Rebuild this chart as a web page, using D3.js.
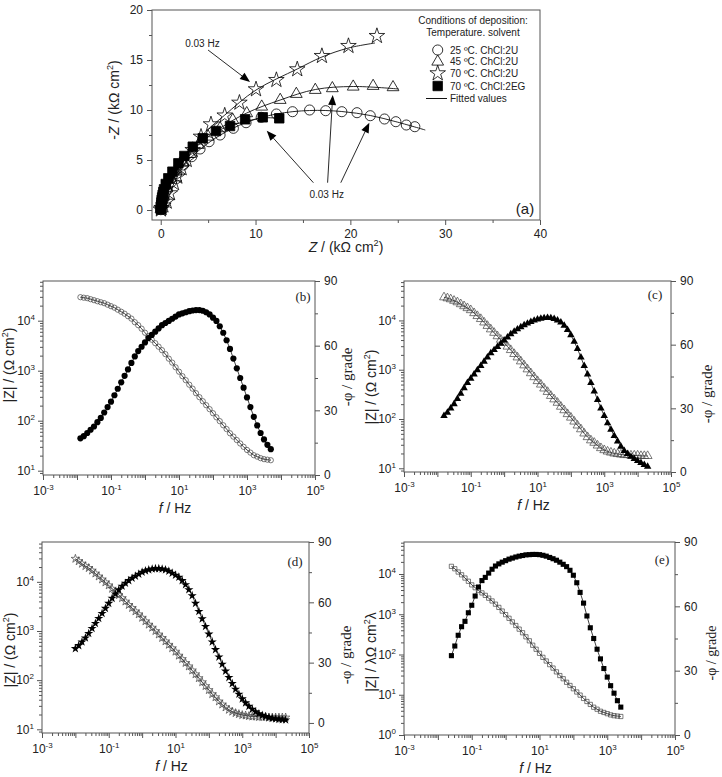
<!DOCTYPE html>
<html>
<head>
<meta charset="utf-8">
<script src="https://cdn.jsdelivr.net/npm/d3@7"></script>
<style>
  body { margin: 0; background: #fff; }
  svg { display: block; }
</style>
</head>
<body>
<svg id="chart" width="722" height="777"></svg>
<script>
// -------------------------------------------------------------------------
// Data

// Nyquist plot (a): [Z', -Z''] in kOhm cm2
const nyq25 = [[0.01,0.03],[0.02,0.1],[0.05,0.25],[0.1,0.5],[0.2,0.85],[0.35,1.17],[0.7,2.0],[1.16,2.83],[1.69,3.67],[2.39,4.5],[3.27,5.33],[4.15,6.1],[5.1,6.83],[6.26,7.5],[7.66,8.17],[9.0,8.73],[10.6,9.27],[12.2,9.6],[13.9,9.83],[15.7,10.0],[17.4,9.93],[19.1,9.83],[20.7,9.73],[22.1,9.43],[23.6,9.1],[24.8,8.83],[25.9,8.5],[26.8,8.33]];
const nyq45 = [[0.02,0.1],[0.1,0.6],[0.28,1.33],[0.63,2.17],[1.09,3.0],[1.61,3.83],[2.32,4.73],[3.09,5.6],[3.97,6.5],[5.0,7.33],[6.26,8.17],[7.6,9.0],[9.07,9.67],[10.65,10.33],[12.6,11.0],[14.3,11.6],[16.3,12.0],[18.1,12.17],[20.3,12.33],[22.4,12.4],[24.5,12.27]];
const nyq70 = [[0.02,0.05],[0.1,0.2],[0.28,0.45],[0.63,0.83],[0.98,1.67],[1.4,2.67],[1.75,3.33],[2.2,4.17],[2.74,5.0],[3.37,6.0],[4.25,7.33],[5.3,8.57],[6.75,9.45],[8.3,10.73],[10.05,12.07],[12.2,13.0],[14.4,14.07],[17.0,15.4],[19.8,16.4],[22.8,17.4]];
const nyqEG = [[0.01,0.05],[0.02,0.17],[0.03,0.35],[0.05,0.5],[0.07,0.75],[0.1,1.0],[0.15,1.25],[0.2,1.5],[0.27,1.8],[0.35,2.07],[0.53,2.6],[0.8,3.17],[1.23,3.83],[1.86,4.67],[2.49,5.4],[3.38,6.33],[4.43,7.17],[5.83,7.9],[7.31,8.4],[8.9,9.07],[10.76,9.27],[12.5,9.17]];

// fitted curves of (a)
const fit25 = [[0,0],[0.35,1.2],[1.2,2.9],[2.4,4.5],[4.2,6.1],[6.3,7.5],[9.0,8.75],[12.2,9.6],[15.7,9.95],[19.1,9.85],[22.1,9.45],[24.8,8.83],[27.9,8.0]];
const fit45 = [[0,0],[0.3,1.35],[1.1,3.0],[2.3,4.75],[3.97,6.5],[6.26,8.17],[9.07,9.7],[12.6,11.0],[16.3,12.05],[20.3,12.35],[25.1,12.1]];
const fit70 = [[0,0],[0.63,0.85],[1.4,2.67],[2.74,5.0],[4.25,7.33],[6.7,9.45],[10.05,12.0],[14.4,14.1],[17.0,15.3],[19.8,16.2],[22.6,16.7]];
const fitEG = [[0,0],[0.05,0.5],[0.2,1.5],[0.53,2.6],[1.23,3.83],[2.49,5.4],[4.43,7.17],[7.31,8.4],[10.76,9.2],[12.5,9.17]];

const legendLabels = ['25 \u00baC. ChCl:2U', '45 \u00baC. ChCl:2U', '70 \u00baC. ChCl:2U', '70 \u00baC. ChCl:2EG', 'Fitted values'];

// frequencies of the Bode plots, Hz
const freq = [0.01,0.0126,0.0158,0.02,0.0251,0.0316,0.0398,0.0501,0.0631,0.0794,
  0.1,0.126,0.158,0.2,0.251,0.316,0.398,0.501,0.631,0.794,
  1,1.26,1.58,2,2.51,3.16,3.98,5.01,6.31,7.94,
  10,12.6,15.8,20,25.1,31.6,39.8,50.1,63.1,79.4,
  100,126,158,200,251,316,398,501,631,794,
  1000,1259,1585,1995,2512,3162,3981,5012,6310,7943,
  10000,12589,15849,19953,25119];

// (b) 25 C ChCl:2U, starts at freq[1]
const bMod = [29500,28800,28200,26900,25700,24500,23400,22400,20900,19500,
  18200,16600,15100,13800,12300,11000,9330,8130,6920,5750,
  4900,4170,3550,3020,2570,2140,1740,1450,1170,955,
  776,646,525,437,355,295,245,204,170,141,
  117,98,81,68,56,48,41,35,30,26,
  23,20.4,19.1,17.8,17,16.6,16.2];
const bPhase = [17,18,19.5,21,22.5,24.5,26.5,29,31.5,34,
  37,40,43,46,49,52,55,57.5,59.5,61.5,
  63.5,65,66.5,68,69.5,70.5,71.5,72.5,73.5,74.5,
  75,75.5,76,76.3,76.5,76.5,76.2,75.5,74.5,73,
  71.5,69,66,62.5,58.5,54,49.5,45,40.5,36,
  31.5,27,23,19.5,16.5,14,12];

// (c) 45 C ChCl:2U, starts at freq[2]
const cMod = [29500,28200,26900,25100,23400,21400,19500,17800,16200,14100,
  12300,10700,9120,7760,6610,5620,4790,4070,3550,2950,
  2510,2090,1780,1480,1230,1020,851,708,589,501,
  417,355,295,251,214,178,151,126,107,89,
  74,62,51,43,37,33,29,25.7,23.4,21.9,
  20.9,20,19.5,19.1,18.6,18.6,18.2,18.2,18.2,17.8,
  17.8,17.8];
const cPhase = [26.5,28,30,32,34.5,37,39.5,42,44,46,
  48,50,52,54,56,57.5,59,60.5,62,63.5,
  65,66.2,67.3,68.3,69.2,70,70.8,71.4,71.9,72.3,
  72.6,72.7,72.6,72.2,71.5,70.5,69,67,64.5,61.5,
  58,54,50,46,42,38,34,30,26.5,23,
  20,17,14.5,12,10,8.5,7.2,6.2,5.2,4.3,
  3.4,2.6];

// (d) 70 C ChCl:2U, starts at freq[0]
const dMod = [29500,26300,23400,20900,19100,17000,14800,12900,11200,9770,
  8510,7240,6310,5370,4680,3980,3390,2950,2510,2190,
  1860,1580,1350,1170,1000,851,724,617,525,447,
  380,316,269,224,191,158,132,110,91,76,
  63,52,45,37,32,28,25,22.9,21.4,20.4,
  19.5,19.1,18.6,18.2,18.2,17.8,17.8,17.8,17.4,17.4,
  17.4,17.4,17.4,17.4];
const dPhase = [37,38.5,40.3,42.3,44.5,47,49.5,52,54.5,57,
  59.5,62,64.2,66.2,68,69.5,70.8,72,73,74,
  75,75.7,76.2,76.6,76.8,76.8,76.6,76.2,75.5,74.5,
  73.5,72.5,70.8,68.8,66.3,63.3,59.5,55.5,51.8,48,
  44.2,40.3,36.5,32.8,29.2,25.8,22.6,19.6,16.8,14.3,
  12,10,8.3,6.8,5.6,4.6,3.8,3.2,2.7,2.3,
  2,1.8,1.6,1.5];

// (e) 70 C ChCl:2EG, starts at freq[4]
const eMod = [15500,13500,11200,9550,7940,6610,5370,4570,3890,3390,
  2950,2510,2140,1780,1480,1200,977,794,646,525,
  427,347,275,219,170,135,107,85,69,56,
  46,37,30,25,20.4,17,14.1,11.7,9.8,8.1,
  6.8,5.75,4.9,4.37,3.89,3.63,3.39,3.16,3.02,2.95,
  2.88];
const ePhase = [37,41.5,46.5,50.5,53,57,60.5,64.8,69,72,
  73.5,75.5,77.3,78.8,79.8,80.6,81.3,82,82.5,83,
  83.4,83.7,84,84.1,84.2,84.2,84.1,83.8,83.4,82.8,
  82.2,81.5,80.6,79.6,78.5,76.8,74.5,71,66.5,61.5,
  55.5,50,45,40,35.5,31,27,23,19.5,16,
  13];

// -------------------------------------------------------------------------
// Style

const SANS = '"Liberation Sans", Arial, sans-serif';
const SERIF = '"Liberation Serif", "Times New Roman", serif';
const AXIS_COLOR = '#555';
const TEXT_COLOR = '#222';

const svg = d3.select('#chart');

/**
 * Function to write a text made of parts (italic, superscript)
 */
function richText(g, x, y, parts, opts) {
  const t = g.append('text')
    .attr('x', x)
    .attr('y', y)
    .attr('font-family', opts.family || SANS)
    .attr('font-size', opts.size)
    .attr('fill', TEXT_COLOR)
    .attr('text-anchor', opts.anchor || 'middle');
  if (opts.rotate) {
    t.attr('transform', `rotate(-90, ${x}, ${y})`);
  }
  let shift = 0;
  parts.forEach(p => {
    const s = t.append('tspan').text(p.t);
    if (p.sup) {
      s.attr('font-size', opts.size * 0.65).attr('dy', -opts.size * 0.4);
      shift = opts.size * 0.4;
    } else if (shift) {
      s.attr('dy', shift);
      shift = 0;
    }
    if (p.italic) {
      s.attr('font-style', 'italic');
    }
  });
  return t;
}

function styleAxis(g, size) {
  g.select('.domain').remove();
  g.selectAll('.tick line').attr('stroke', AXIS_COLOR);
  g.selectAll('.tick text')
    .attr('fill', TEXT_COLOR)
    .attr('font-size', size)
    .attr('font-family', SANS);
}

function logMajors(domain) {
  const out = [];
  const lo = Math.ceil(Math.log10(domain[0]) - 1e-9);
  const hi = Math.floor(Math.log10(domain[1]) + 1e-9);
  for (let k = lo; k <= hi; k++) out.push(Math.pow(10, k));
  return out;
}

function logMinors(domain) {
  const out = [];
  const lo = Math.floor(Math.log10(domain[0]));
  const hi = Math.ceil(Math.log10(domain[1]));
  for (let k = lo; k <= hi; k++) {
    for (let m = 2; m <= 9; m++) {
      const v = m * Math.pow(10, k);
      if (v >= domain[0] && v <= domain[1]) out.push(v);
    }
  }
  return out;
}

/**
 * Function to turn tick labels into 10 with a superscript
 */
function powerLabels(g, keep) {
  g.selectAll('.tick text').each(function(d) {
    const e = Math.round(Math.log10(d));
    const sel = d3.select(this);
    if (!keep(e)) {
      sel.remove();
      return;
    }
    sel.text('10');
    sel.append('tspan').attr('font-size', 8).attr('dy', -5).text(e);
  });
}

function symbolPath(type, size) {
  return d3.symbol().type(type).size(size)();
}

// -------------------------------------------------------------------------
// Panel (a)

function drawNyquist() {
  const box = { left: 152, right: 540, top: 10, bottom: 220 };
  const g = svg.append('g');
  const x = d3.scaleLinear().domain([-0.92, 40]).range([box.left, box.right]);
  const y = d3.scaleLinear().domain([-1, 20]).range([box.bottom, box.top]);

  const xMinor = g.append('g').attr('transform', `translate(0,${box.bottom})`)
    .call(d3.axisBottom(x).tickValues([5, 15, 25, 35]).tickSize(3).tickFormat(''));
  styleAxis(xMinor, 12);
  const xMajor = g.append('g').attr('transform', `translate(0,${box.bottom})`)
    .call(d3.axisBottom(x).tickValues([0, 10, 20, 30, 40]).tickSize(5).tickPadding(4));
  styleAxis(xMajor, 12);
  const yMinor = g.append('g').attr('transform', `translate(${box.left},0)`)
    .call(d3.axisLeft(y).tickValues([2.5, 7.5, 12.5, 17.5]).tickSize(3).tickFormat(''));
  styleAxis(yMinor, 12);
  const yMajor = g.append('g').attr('transform', `translate(${box.left},0)`)
    .call(d3.axisLeft(y).tickValues([0, 5, 10, 15, 20]).tickSize(5).tickPadding(4));
  styleAxis(yMajor, 12);

  g.append('rect')
    .attr('x', box.left).attr('y', box.top)
    .attr('width', box.right - box.left).attr('height', box.bottom - box.top)
    .attr('fill', 'none').attr('stroke', AXIS_COLOR);

  const line = d3.line().x(d => x(d[0])).y(d => y(d[1])).curve(d3.curveCatmullRom);
  [fit25, fit45, fit70, fitEG].forEach(fit => {
    g.append('path').attr('d', line(fit))
      .attr('fill', 'none').attr('stroke', '#111').attr('stroke-width', 0.9);
  });

  const series = [
    { data: nyq25, type: d3.symbolCircle, size: 80, fill: 'none' },
    { data: nyq45, type: d3.symbolTriangle, size: 60, fill: 'none' },
    { data: nyq70, type: d3.symbolStar, size: 75, fill: 'none' },
    { data: nyqEG, type: d3.symbolSquare, size: 90, fill: '#000' }
  ];
  series.forEach(s => {
    g.append('g').selectAll('path').data(s.data).enter().append('path')
      .attr('d', symbolPath(s.type, s.size))
      .attr('transform', d => `translate(${x(d[0])},${y(d[1])})`)
      .attr('fill', s.fill)
      .attr('stroke', '#000')
      .attr('stroke-width', 0.8);
  });

  // frequency annotations
  const arrows = [
    [[4.99, 16.0], [9.42, 12.8]],
    [[16.1, 2.73], [11.18, 7.93]],
    [[17.6, 2.73], [18.14, 11.5]],
    [[18.99, 2.73], [22.0, 8.73]]
  ];
  arrows.forEach(a => {
    const x0 = x(a[0][0]), y0 = y(a[0][1]), x1 = x(a[1][0]), y1 = y(a[1][1]);
    const ang = Math.atan2(y1 - y0, x1 - x0);
    const len = 10, half = 4;
    const bx = x1 - len * Math.cos(ang), by = y1 - len * Math.sin(ang);
    g.append('line')
      .attr('x1', x0).attr('y1', y0).attr('x2', bx).attr('y2', by)
      .attr('stroke', '#111').attr('stroke-width', 0.9);
    g.append('path')
      .attr('d', `M${x1},${y1}L${bx + half * Math.sin(ang)},${by - half * Math.cos(ang)}L${bx - half * Math.sin(ang)},${by + half * Math.cos(ang)}Z`)
      .attr('fill', '#000');
  });
  [[4.4, 16.7], [17.5, 1.57]].forEach(p => {
    g.append('text')
      .attr('x', x(p[0])).attr('y', y(p[1]) + 4)
      .attr('text-anchor', 'middle')
      .attr('font-family', SANS).attr('font-size', 10).attr('fill', TEXT_COLOR)
      .text('0.03 Hz');
  });

  // legend
  const lg = g.append('g').attr('font-family', SANS).attr('font-size', 10).attr('fill', TEXT_COLOR);
  lg.append('text').attr('x', 473).attr('y', 24).attr('text-anchor', 'middle').text('Conditions of deposition:');
  lg.append('text').attr('x', 473).attr('y', 36).attr('text-anchor', 'middle').text('Temperature. solvent');
  const rows = [50, 61.7, 73.3, 86, 98.5];
  series.forEach((s, i) => {
    lg.append('path')
      .attr('d', symbolPath(s.type, s.size))
      .attr('transform', `translate(437.7,${rows[i]})`)
      .attr('fill', s.fill).attr('stroke', '#000').attr('stroke-width', 0.8);
  });
  lg.append('line').attr('x1', 426).attr('x2', 447).attr('y1', rows[4]).attr('y2', rows[4])
    .attr('stroke', '#111');
  legendLabels.forEach((l, i) => {
    lg.append('text').attr('x', 450).attr('y', rows[i] + 3.5).text(l);
  });

  g.append('text').attr('x', 525).attr('y', 214).attr('text-anchor', 'middle')
    .attr('font-family', SANS).attr('font-size', 15).attr('fill', TEXT_COLOR).text('(a)');

  richText(g, 346, 252, [{ t: 'Z', italic: true }, { t: ' / (k\u03a9 cm' }, { t: '2', sup: true }, { t: ')' }], { size: 14 });
  richText(g, 119, 100, [{ t: '-' }, { t: 'Z', italic: true }, { t: ' / (k\u03a9 cm' }, { t: '2', sup: true }, { t: ')' }], { size: 14, rotate: true });
}

// -------------------------------------------------------------------------
// Panels (b) - (e)

function drawBode(p) {
  const g = svg.append('g');
  const x = d3.scaleLog().domain([1e-3, 1e5]).range([p.left, p.right]);
  const yL = d3.scaleLog().domain(p.modDomain).range([p.bottom, p.top]);
  const yR = d3.scaleLinear().domain(p.phaseDomain).range([p.bottom, p.top]);

  const xMinor = g.append('g').attr('transform', `translate(0,${p.bottom})`)
    .call(d3.axisBottom(x).tickValues(logMinors(x.domain())).tickSize(3).tickFormat(''));
  styleAxis(xMinor, 12);
  const xMajor = g.append('g').attr('transform', `translate(0,${p.bottom})`)
    .call(d3.axisBottom(x).tickValues(logMajors(x.domain())).tickSize(5).tickPadding(6));
  styleAxis(xMajor, 12);
  powerLabels(xMajor, e => Math.abs(e % 2) === 1);

  const yMinor = g.append('g').attr('transform', `translate(${p.left},0)`)
    .call(d3.axisLeft(yL).tickValues(logMinors(yL.domain())).tickSize(3).tickFormat(''));
  styleAxis(yMinor, 12);
  const yMajor = g.append('g').attr('transform', `translate(${p.left},0)`)
    .call(d3.axisLeft(yL).tickValues(logMajors(yL.domain())).tickSize(5).tickPadding(3));
  styleAxis(yMajor, 12);
  powerLabels(yMajor, () => true);

  const rMinor = g.append('g').attr('transform', `translate(${p.right},0)`)
    .call(d3.axisRight(yR).tickValues([15, 45, 75]).tickSize(3).tickFormat(''));
  styleAxis(rMinor, 12);
  const rMajor = g.append('g').attr('transform', `translate(${p.right},0)`)
    .call(d3.axisRight(yR).tickValues([0, 30, 60, 90]).tickSize(5).tickPadding(4));
  styleAxis(rMajor, 12);

  g.append('rect')
    .attr('x', p.left).attr('y', p.top)
    .attr('width', p.right - p.left).attr('height', p.bottom - p.top)
    .attr('fill', 'none').attr('stroke', AXIS_COLOR);

  const fm = freq.slice(p.start, p.start + p.mod.length);
  const modPts = p.mod.map((v, i) => [fm[i], v]);
  const phPts = p.phase.map((v, i) => [fm[i], v]);

  const modLine = d3.line().x(d => x(d[0])).y(d => yL(d[1]));
  const phLine = d3.line().x(d => x(d[0])).y(d => yR(d[1]));
  g.append('path').attr('d', modLine(modPts)).attr('fill', 'none').attr('stroke', '#111').attr('stroke-width', 0.8);
  g.append('path').attr('d', phLine(phPts)).attr('fill', 'none').attr('stroke', '#111').attr('stroke-width', 0.8);

  g.append('g').selectAll('path').data(modPts).enter().append('path')
    .attr('d', symbolPath(p.symbol, p.openSize))
    .attr('transform', d => `translate(${x(d[0])},${yL(d[1])})`)
    .attr('fill', 'none').attr('stroke', '#444').attr('stroke-width', 0.7);
  g.append('g').selectAll('path').data(phPts).enter().append('path')
    .attr('d', symbolPath(p.symbol, p.fillSize))
    .attr('transform', d => `translate(${x(d[0])},${yR(d[1])})`)
    .attr('fill', '#000');

  g.append('text').attr('x', p.tag[0]).attr('y', p.tag[1]).attr('text-anchor', 'middle')
    .attr('font-family', SERIF).attr('font-size', 13).attr('fill', TEXT_COLOR).text(`(${p.id})`);

  richText(g, (p.left + p.right) / 2 - 4, p.bottom + 38, [{ t: 'f', italic: true }, { t: ' / Hz' }], { size: 14 });
  richText(g, p.leftLabel[0], p.leftLabel[1], p.modLabel, { size: 14, rotate: true });
  richText(g, p.rightLabel[0], p.rightLabel[1], [{ t: '-\u03c6 / grade' }], { size: p.rightSize || 15, rotate: true, family: SERIF });
}

const zLabel = [{ t: '|Z| / (\u03a9 cm' }, { t: '2', sup: true }, { t: ')' }];
const zLabelE = [{ t: '|Z| / \u03bb\u03a9 cm' }, { t: '2', sup: true }, { t: '\u03bb' }];

drawNyquist();
drawBode({ id: 'b', left: 43, right: 315, top: 281, bottom: 475, modDomain: [8.2, 62200], phaseDomain: [0, 90],
  start: 1, mod: bMod, phase: bPhase, symbol: d3.symbolCircle, openSize: 22, fillSize: 30,
  tag: [303, 301], leftLabel: [14, 365], rightLabel: [352, 377], modLabel: zLabel });
drawBode({ id: 'c', left: 404, right: 671, top: 281, bottom: 472, modDomain: [8.41, 63100], phaseDomain: [0, 90],
  start: 2, mod: cMod, phase: cPhase, symbol: d3.symbolTriangle, openSize: 34, fillSize: 24,
  tag: [655, 299], leftLabel: [376, 387], rightLabel: [712, 394], modLabel: zLabel });
drawBode({ id: 'd', left: 42, right: 309, top: 542, bottom: 733, modDomain: [8.41, 64600], phaseDomain: [-5, 90],
  start: 0, mod: dMod, phase: dPhase, symbol: d3.symbolStar, openSize: 22, fillSize: 26,
  tag: [295, 566], leftLabel: [15, 650], rightLabel: [351, 655], modLabel: zLabel });
drawBode({ id: 'e', left: 404, right: 675, top: 542, bottom: 735, modDomain: [1, 62400], phaseDomain: [0, 90],
  start: 4, mod: eMod, phase: ePhase, symbol: d3.symbolSquare, openSize: 18, fillSize: 26,
  tag: [662, 564], leftLabel: [376, 652], rightLabel: [716, 653], rightSize: 14, modLabel: zLabelE });
</script>
</body>
</html>
